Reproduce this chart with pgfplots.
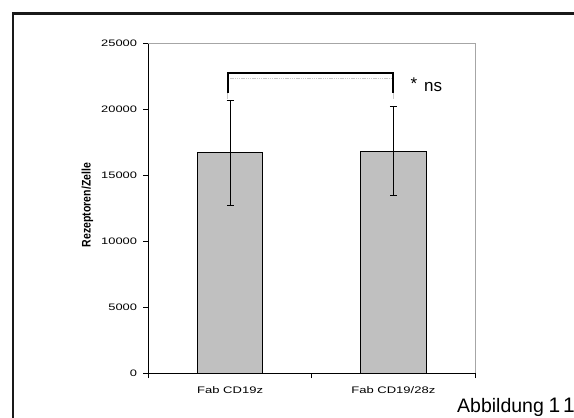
\documentclass[border=0pt]{standalone}
\usepackage{pgfplots}
\pgfplotsset{compat=1.18}
\usepackage{fontspec}
\setmainfont{Liberation Sans}
\usepackage{graphicx}
\definecolor{barg}{HTML}{C0C0C0}
\definecolor{frameg}{HTML}{A6A6A6}
\definecolor{shadowg}{HTML}{C8C8C8}
\begin{document}
\begin{tikzpicture}[x=1pt,y=1pt]
\useasboundingbox (0,0) rectangle (574,-418);
\clip (0,0) rectangle (574,-418);
\fill[white] (0,0) rectangle (574,-418);
\draw[line width=2.2pt, black!90] (13.3,-13.5) rectangle (640,-470);
\begin{axis}[
  at={(148.5pt,-373pt)}, anchor=south west,
  scale only axis, width=326.5pt, height=330pt,
  xmin=-0.5, xmax=1.5, ymin=0, ymax=25000,
  axis x line*=bottom, axis y line*=left,
  axis line style={black, line width=0.9pt},
  tick align=outside,
  major tick length=5pt,
  tick style={black, line width=0.8pt},
  scaled y ticks=false,
  ytick={0,5000,10000,15000,20000,25000},
  yticklabel={\scalebox{1.37}[1]{\pgfmathprintnumber{\tick}}},
  yticklabel style={font=\fontsize{9.4}{11}\selectfont, inner sep=0pt, anchor=east, xshift=-6.3pt},
  xtick={-0.5,0.5,1.5},
  xticklabels={},
  extra x ticks={0,1},
  extra x tick labels={{\scalebox{1.37}[1]{Fab CD19z}},{\scalebox{1.37}[1]{Fab CD19/28z}}},
  extra x tick style={major tick length=0pt, tick label style={font=\fontsize{9.5}{11}\selectfont, inner sep=0pt, anchor=north, yshift=-13pt}},
  /pgf/number format/1000 sep={},
  /pgf/number format/assume math mode=true,
  clip=false,
]
\addplot[ybar, bar width=0.4, fill=barg, draw=black, line width=0.8pt] coordinates {(0,16710) (1,16784)};
\addplot[draw=none, mark=none, forget plot,
  error bars/.cd, y dir=both, y explicit,
  error bar style={draw=black, line width=0.6pt},
  error mark options={draw=black, rotate=90, mark size=3.5pt, line width=0.6pt}]
  coordinates {(0,16710) += (0,3955) -= (0,3983) (1,16784) += (0,3403) -= (0,3301)};
\addplot[shadowg, line width=1.5pt, forget plot] coordinates {(-0.015,20760) (-0.015,21190)};
\addplot[shadowg, line width=1.5pt, forget plot] coordinates {(1.0,20760) (1.0,21190)};
\addplot[shadowg, line width=1.2pt, dash pattern=on 1.5pt off 0.7pt, forget plot] coordinates {(0.0,22325) (0.985,22325)};
\addplot[black, line width=2pt, line join=miter, forget plot] coordinates {(-0.015,21190) (-0.015,22705) (1.0,22705) (1.0,21190)};
\draw[frameg, line width=0.8pt] (rel axis cs:0,1) -- (rel axis cs:1,1) -- (rel axis cs:1,0);
\end{axis}
\node[anchor=base west, inner sep=0pt, font=\fontsize{17}{19}\selectfont] at (410.5,-89) {*};
\node[anchor=base west, inner sep=0pt, font=\fontsize{17}{19}\selectfont] at (424,-91.7) {ns};
\node[rotate=90, inner sep=0pt] at (87.5,-205) {\resizebox{84pt}{9pt}{\bfseries Rezeptoren/Zelle}};
\node[anchor=base west, inner sep=0pt, font=\fontsize{19.5}{21}\selectfont] at (457,-412) {Abbildung};
\node[anchor=base west, inner sep=0pt, font=\fontsize{21}{23}\selectfont] at (548.5,-412) {1};
\node[anchor=base west, inner sep=0pt, font=\fontsize{21}{23}\selectfont] at (563,-412) {1};
\end{tikzpicture}
\end{document}
